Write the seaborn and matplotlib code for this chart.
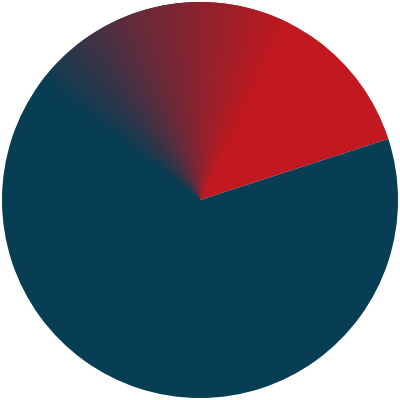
import numpy as np
import matplotlib
matplotlib.use("Agg")
import matplotlib.pyplot as plt
import matplotlib.colors as mcolors
import seaborn as sns

# share of the highlighted slice vs the rest
labels = ["Highlighted", "Rest"]
shares = [20, 80]
slice_colors = ["#C1191F", "#073E54"]

# gradient tail (degrees clockwise from 12 o'clock): teal -> red
fade_start = -55
fade_end = 27

sns.set_style("white")
fig = plt.figure(figsize=(4, 4), dpi=100)
ax = fig.add_axes([0, 0, 1, 1])

wedges, _ = ax.pie(shares, colors=slice_colors, startangle=90,
                   counterclock=False, radius=1.0,
                   wedgeprops=dict(linewidth=0, antialiased=True))

# conic gradient overlay, clipped to the circle
n = 800
xs = np.linspace(-1, 1, n)
X, Y = np.meshgrid(xs, xs[::-1])
theta = np.degrees(np.arctan2(X, Y))
t = (theta - fade_start) / (fade_end - fade_start)
cmap = mcolors.LinearSegmentedColormap.from_list(
    "fade", [(0, slice_colors[1]), (0.45, "#6a2a3a"), (1, slice_colors[0])])
rgba = cmap(np.clip(t, 0, 1))
rgba[..., 3] = ((t >= 0) & (t <= 1)).astype(float)
im = ax.imshow(rgba, extent=(-1, 1, -1, 1), interpolation="bilinear", zorder=3)
circle = plt.Circle((0, 0), 1.0, transform=ax.transData)
im.set_clip_path(circle)

ax.set_xlim(-1.01, 1.01)
ax.set_ylim(-1.01, 1.01)
ax.set_aspect("equal")
ax.axis("off")
fig.savefig("out.png", dpi=100, facecolor="white")
